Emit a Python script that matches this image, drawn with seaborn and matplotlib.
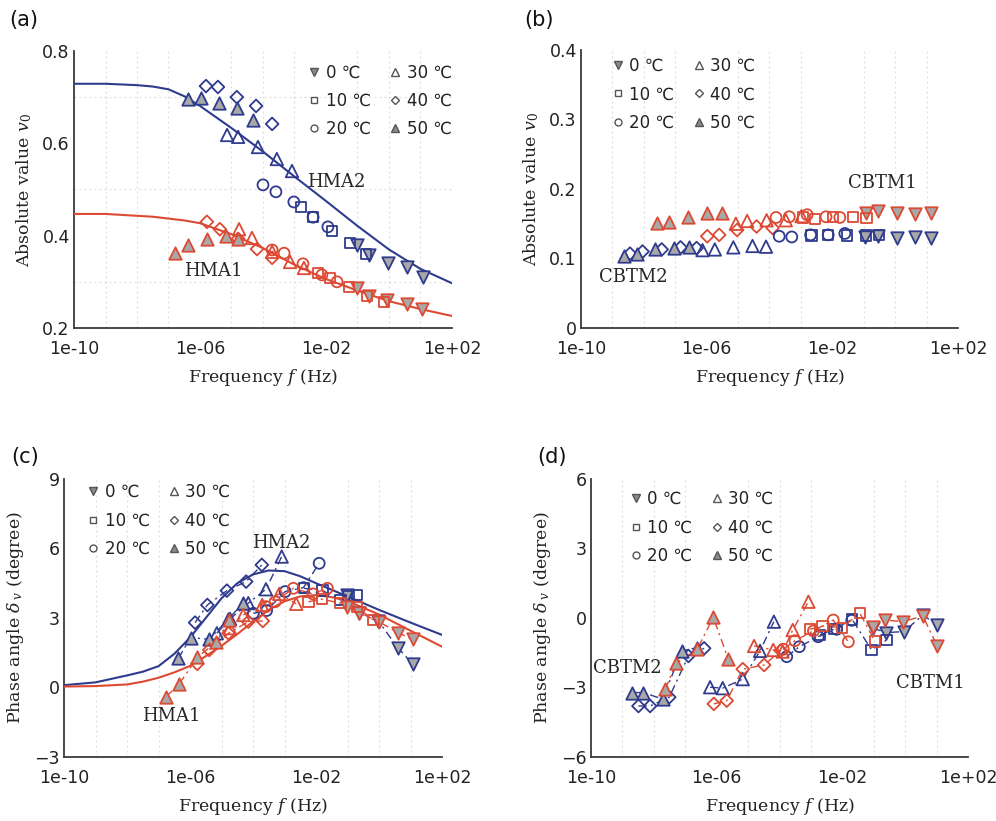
import numpy as np
import pandas as pd
import matplotlib
matplotlib.use("Agg")
import matplotlib.pyplot as plt
import seaborn as sns
from matplotlib.lines import Line2D
from matplotlib.ticker import FixedLocator, FixedFormatter, NullFormatter

# ---------------- data (log10 of frequency, value) ----------------
TEMPS = [0, 10, 20, 30, 40, 50]

# (a) absolute value, HMA2 (blue) and HMA1 (red)
A_HMA2_LOGF = {0: [-1.02, -0.63, -0.03, 0.57, 1.08], 10: [-2.79, -2.41, -1.81, -1.24, -0.73],
               20: [-4.00, -3.59, -3.02, -2.41, -1.94], 30: [-5.14, -4.79, -4.16, -3.56, -3.08],
               40: [-5.81, -5.43, -4.83, -4.22, -3.71], 50: [-6.38, -5.97, -5.40, -4.83, -4.32]}
A_HMA2_V = {0: [0.380, 0.358, 0.341, 0.332, 0.310], 10: [0.462, 0.440, 0.410, 0.384, 0.360],
            20: [0.510, 0.495, 0.473, 0.440, 0.419], 30: [0.618, 0.614, 0.592, 0.566, 0.540],
            40: [0.724, 0.722, 0.700, 0.681, 0.642], 50: [0.696, 0.698, 0.687, 0.677, 0.651]}
A_HMA1_LOGF = {0: [-1.02, -0.63, -0.06, 0.57, 1.05], 10: [-2.25, -1.87, -1.27, -0.70, -0.16],
               20: [-3.71, -3.33, -2.73, -2.13, -1.65], 30: [-4.76, -4.35, -3.71, -3.14, -2.70],
               40: [-5.78, -5.37, -4.79, -4.19, -3.71], 50: [-6.79, -6.38, -5.78, -5.17, -4.79]}
A_HMA1_V = {0: [0.287, 0.269, 0.261, 0.252, 0.241], 10: [0.319, 0.308, 0.289, 0.269, 0.256],
            20: [0.369, 0.362, 0.339, 0.315, 0.300], 30: [0.414, 0.395, 0.365, 0.343, 0.330],
            40: [0.430, 0.414, 0.393, 0.371, 0.352], 50: [0.362, 0.380, 0.393, 0.399, 0.393]}
A_FIT_LOGF = [-10, -9, -8, -7.5, -7, -6.5, -6, -5, -4, -3, -2, -1, 0, 1, 2]
A_FIT_HMA2 = [0.729, 0.729, 0.726, 0.723, 0.717, 0.702, 0.681, 0.633, 0.582, 0.528, 0.475,
              0.421, 0.370, 0.328, 0.297]
A_FIT_HMA1 = [0.447, 0.447, 0.443, 0.441, 0.437, 0.433, 0.427, 0.403, 0.373, 0.337, 0.306,
              0.281, 0.258, 0.241, 0.226]

# (b) absolute value, CBTM1 (red) and CBTM2 (blue)
B_CBTM1_LOGF = {0: [-0.93, -0.56, 0.05, 0.63, 1.13], 10: [-2.94, -2.55, -1.97, -1.35, -0.91],
                20: [-3.79, -3.37, -2.80, -2.20, -1.76], 30: [-5.07, -4.71, -4.09, -3.48, -2.98],
                40: [-5.98, -5.60, -5.03, -4.41, -3.90], 50: [-7.59, -7.19, -6.59, -6.00, -5.52]}
B_CBTM1_V = {0: [0.165, 0.168, 0.166, 0.164, 0.166], 10: [0.159, 0.157, 0.160, 0.160, 0.158],
             20: [0.159, 0.160, 0.163, 0.160, 0.159], 30: [0.150, 0.154, 0.155, 0.155, 0.161],
             40: [0.132, 0.134, 0.141, 0.146, 0.144], 50: [0.151, 0.153, 0.159, 0.165, 0.166]}
B_CBTM2_LOGF = {0: [-0.96, -0.54, 0.05, 0.63, 1.13], 10: [-2.66, -2.13, -1.54, -0.93, -0.51],
                20: [-3.69, -3.29, -2.69, -2.13, -1.60], 30: [-6.13, -5.74, -5.15, -4.54, -4.11],
                40: [-8.44, -8.04, -7.43, -6.83, -6.32], 50: [-8.63, -8.23, -7.64, -7.04, -6.55]}
B_CBTM2_V = {0: [0.131, 0.133, 0.130, 0.131, 0.129], 10: [0.133, 0.134, 0.133, 0.133, 0.134],
             20: [0.132, 0.131, 0.134, 0.134, 0.136], 30: [0.112, 0.113, 0.116, 0.118, 0.117],
             40: [0.107, 0.110, 0.113, 0.116, 0.115], 50: [0.104, 0.107, 0.113, 0.115, 0.117]}

# (c) phase angle, HMA2 (blue) and HMA1 (red)
C_HMA2_LOGF = {0: [-1.03, -0.63, -0.02, 0.59, 1.07], 10: [-2.38, -1.79, -1.22, -0.97, -0.71],
               20: [-3.99, -3.57, -2.98, -2.40, -1.90], 30: [-5.15, -4.73, -4.15, -3.59, -3.09],
               40: [-5.84, -5.45, -4.83, -4.22, -3.72], 50: [-6.37, -5.98, -5.39, -4.78, -4.31]}
C_HMA2_V = {0: [3.99, 3.20, 2.87, 1.72, 1.02], 10: [4.28, 4.18, 3.78, 3.95, 3.99],
            20: [3.20, 3.32, 4.14, 4.31, 5.36], 30: [2.34, 2.96, 3.64, 4.24, 5.65],
            40: [2.80, 3.56, 4.18, 4.57, 5.29], 50: [1.26, 2.15, 2.08, 2.96, 3.64]}
C_HMA1_LOGF = {0: [-1.01, -0.63, 0.00, 0.59, 1.07], 10: [-2.24, -1.82, -1.22, -0.70, -0.18],
               20: [-3.59, -3.30, -2.72, -2.10, -1.64], 30: [-4.73, -4.31, -3.71, -3.17, -2.63],
               40: [-5.77, -5.39, -4.78, -4.15, -3.69], 50: [-6.76, -6.35, -5.77, -5.17, -4.75]}
C_HMA1_V = {0: [3.49, 3.23, 2.84, 2.37, 2.08], 10: [3.70, 3.81, 3.64, 3.48, 2.91],
            20: [3.49, 3.70, 4.28, 4.04, 4.28], 30: [2.56, 3.13, 3.56, 4.04, 3.61],
            40: [1.02, 1.62, 2.34, 2.84, 2.87], 50: [-0.40, 0.14, 1.30, 1.95, 2.91]}
C_FIT_HMA2_LOGF = [-10, -9, -8, -7.5, -7, -6.5, -6, -5.5, -5, -4.5, -4, -3.5, -3, -2.5, -2, -1, 0, 1, 2]
C_FIT_HMA2 = [0.10, 0.22, 0.52, 0.68, 0.92, 1.45, 2.15, 3.00, 3.85, 4.50, 4.88, 5.05, 5.02, 4.80,
              4.50, 3.93, 3.35, 2.80, 2.27]
C_FIT_HMA1_LOGF = [-10, -9, -8, -7.5, -7, -6.5, -6, -5.5, -5, -4.5, -4, -3.5, -3, -2.5, -2, -1.5, -1,
                   0, 1, 2]
C_FIT_HMA1 = [0.04, 0.06, 0.13, 0.25, 0.42, 0.65, 0.93, 1.35, 1.80, 2.30, 2.85, 3.35, 3.72, 3.93,
              3.99, 3.90, 3.73, 3.15, 2.45, 1.76]

# (d) phase angle, CBTM1 (red) and CBTM2 (blue)
D_CBTM2_LOGF = {0: [-1.03, -0.61, -0.04, 0.56, 1.02], 10: [-2.71, -2.27, -1.69, -1.07, -0.59],
                20: [-3.77, -3.37, -2.77, -2.18, -1.70], 30: [-6.21, -5.81, -5.17, -4.62, -4.18],
                40: [-8.49, -8.12, -7.51, -6.90, -6.40], 50: [-8.70, -8.34, -7.72, -7.11, -6.62]}
D_CBTM2_V = {0: [-0.44, -0.63, -0.59, 0.13, -0.30], 10: [-0.73, -0.49, -0.06, -1.38, -0.95],
             20: [-1.67, -1.24, -0.81, -0.49, -0.10], 30: [-2.99, -3.03, -2.64, -1.42, -0.16],
             40: [-3.80, -3.80, -3.42, -1.64, -1.31], 50: [-3.22, -3.22, -3.50, -1.42, -1.28]}
D_CBTM1_LOGF = {0: [-1.03, -0.64, -0.06, 0.56, 1.02], 10: [-3.03, -2.63, -2.02, -1.44, -0.96],
                20: [-3.88, -3.51, -2.92, -2.29, -1.81], 30: [-4.81, -4.20, -3.90, -3.58, -3.08],
                40: [-6.09, -5.68, -5.17, -4.49, -3.96], 50: [-7.64, -7.29, -6.62, -6.11, -5.63]}
D_CBTM1_V = {0: [-0.37, -0.09, -0.16, 0.09, -1.21], 10: [-0.49, -0.34, -0.42, 0.20, -1.02],
             20: [-1.35, -0.98, -0.56, -0.09, -1.03], 30: [-1.21, -1.38, -1.45, -0.52, 0.70],
             40: [-3.71, -3.57, -2.21, -2.03, -1.41], 50: [-3.08, -1.95, -1.35, 0.03, -1.78]}

X_TICKS = [1e-10, 1e-6, 1e-2, 1e2]
X_TICK_LABELS = ["1e-10", "1e-06", "1e-02", "1e+02"]

# ---------------- style ----------------
sns.set_theme(style="white")
plt.rcParams['font.family'] = ['DejaVu Sans']
plt.rcParams['mathtext.fontset'] = 'dejavuserif'

BLUE = '#2f3b8d'
RED = '#dc4a34'
GRAY = '#a8a8a8'
SPINE = '#3a3a3a'
SERIF = ['DejaVu Serif']

MARKERS = {0: 'v', 10: 's', 20: 'o', 30: '^', 40: 'D', 50: '^'}
SIZES = {0: 80, 10: 55, 20: 62, 30: 80, 40: 42, 50: 80}
FILLED = {0: True, 10: False, 20: False, 30: False, 40: False, 50: True}
LEG_MS = {0: 6, 10: 5, 20: 5, 30: 6, 40: 4.5, 50: 6}


def to_frame(logf, vals):
    rows = []
    for t in TEMPS:
        for lf, v in zip(logf[t], vals[t]):
            rows.append({"temp": t, "freq": 10.0 ** lf, "value": v})
    return pd.DataFrame(rows)


def draw_points(ax, logf, vals, color, connect=False):
    df = to_frame(logf, vals)
    for t in TEMPS:
        sub = df[df.temp == t]
        if connect:
            sns.lineplot(data=sub, x="freq", y="value", color=color, linewidth=1.0,
                         linestyle=(0, (6, 3, 1.5, 3)), estimator=None, sort=False, ax=ax,
                         legend=False, zorder=2)
        sns.scatterplot(data=sub, x="freq", y="value", marker=MARKERS[t], s=SIZES[t],
                        color=GRAY if FILLED[t] else 'none', edgecolor=color,
                        linewidth=1.3, ax=ax, legend=False, zorder=4)


def draw_fit(ax, logf, vals, color):
    sns.lineplot(x=10.0 ** np.asarray(logf), y=vals, color=color, linewidth=1.5,
                 estimator=None, sort=False, ax=ax, legend=False, zorder=3)


def style_axes(ax, ylim, yticks, ylabels, ygrid, ylabel):
    ax.set_xscale('log')
    ax.set_xlim(1e-10, 1e2)
    ax.set_ylim(*ylim)
    ax.xaxis.set_major_locator(FixedLocator(X_TICKS))
    ax.xaxis.set_major_formatter(FixedFormatter(X_TICK_LABELS))
    ax.xaxis.set_minor_locator(FixedLocator([10.0 ** k for k in range(-10, 3)]))
    ax.xaxis.set_minor_formatter(NullFormatter())
    ax.yaxis.set_major_locator(FixedLocator(yticks))
    ax.yaxis.set_major_formatter(FixedFormatter(ylabels))
    ax.yaxis.set_minor_locator(FixedLocator(ygrid))
    ax.yaxis.set_minor_formatter(NullFormatter())
    ax.tick_params(axis='both', which='major', direction='in', length=5, width=1.2,
                   color=SPINE, labelsize=12.5, labelcolor='#222222')
    ax.tick_params(axis='x', which='major', pad=9)
    ax.tick_params(axis='y', which='major', pad=3)
    ax.tick_params(which='minor', length=0)
    ax.grid(True, which='minor', color='#dedede', linestyle=(0, (1.5, 2.5)), linewidth=0.9)
    ax.grid(False, which='major')
    for s in ['top', 'right']:
        ax.spines[s].set_visible(False)
    for s in ['left', 'bottom']:
        ax.spines[s].set_color(SPINE)
        ax.spines[s].set_linewidth(1.3)
    ax.set_facecolor('white')
    ax.set_xlabel(r"Frequency $f$ (Hz)", fontsize=12.5, family=SERIF, labelpad=6, color='#222222')
    ax.set_ylabel(ylabel, fontsize=12.5, family=SERIF, labelpad=6, color='#222222')


def add_legend(ax, anchor, loc):
    handles = []
    for t in TEMPS:
        handles.append(Line2D([], [], linestyle='none', marker=MARKERS[t], markersize=LEG_MS[t],
                              markerfacecolor='#8a8a8a' if FILLED[t] else 'none',
                              markeredgecolor='#555555', markeredgewidth=1.0,
                              label=f"{t} \u2103"))
    ax.legend(handles=handles, ncol=2, frameon=False, fontsize=12, loc=loc,
              bbox_to_anchor=anchor, handlelength=0.7, handletextpad=0.35,
              columnspacing=1.1, labelspacing=0.62, borderpad=0, borderaxespad=0,
              labelcolor='#222222')


fig = plt.figure(figsize=(9.96, 8.21), dpi=100)
ax_a = fig.add_axes([0.0743, 0.6005, 0.3795, 0.3374])
ax_b = fig.add_axes([0.5833, 0.6005, 0.3785, 0.3386])
ax_c = fig.add_axes([0.0643, 0.0780, 0.3795, 0.3386])
ax_d = fig.add_axes([0.5934, 0.0780, 0.3785, 0.3386])

ABS_LABEL = r"Absolute value $v_0$"
PHASE_LABEL = r"Phase angle $\delta_{\,v}$ (degree)"

# (a)
draw_fit(ax_a, A_FIT_LOGF, A_FIT_HMA2, BLUE)
draw_fit(ax_a, A_FIT_LOGF, A_FIT_HMA1, RED)
draw_points(ax_a, A_HMA2_LOGF, A_HMA2_V, BLUE)
draw_points(ax_a, A_HMA1_LOGF, A_HMA1_V, RED)
style_axes(ax_a, (0.2, 0.8), [0.2, 0.4, 0.6, 0.8], ["0.2", "0.4", "0.6", "0.8"],
           [0.3, 0.4, 0.5, 0.6, 0.7], ABS_LABEL)
ax_a.text(10 ** -1.66, 0.517, "HMA2", family=SERIF, fontsize=13, ha='center', va='center')
ax_a.text(10 ** -5.58, 0.324, "HMA1", family=SERIF, fontsize=13, ha='center', va='center')
add_legend(ax_a, (1.0, 0.955), 'upper right')

# (b)
draw_points(ax_b, B_CBTM1_LOGF, B_CBTM1_V, RED)
draw_points(ax_b, B_CBTM2_LOGF, B_CBTM2_V, BLUE)
style_axes(ax_b, (0.0, 0.4), [0.0, 0.1, 0.2, 0.3, 0.4], ["0", "0.1", "0.2", "0.3", "0.4"],
           [0.1, 0.2], ABS_LABEL)
ax_b.text(10 ** -0.40, 0.208, "CBTM1", family=SERIF, fontsize=13, ha='center', va='center')
ax_b.text(10 ** -8.34, 0.074, "CBTM2", family=SERIF, fontsize=13, ha='center', va='center')
add_legend(ax_b, (0.082, 0.975), 'upper left')

# (c)
draw_fit(ax_c, C_FIT_HMA2_LOGF, C_FIT_HMA2, BLUE)
draw_fit(ax_c, C_FIT_HMA1_LOGF, C_FIT_HMA1, RED)
draw_points(ax_c, C_HMA2_LOGF, C_HMA2_V, BLUE, connect=True)
draw_points(ax_c, C_HMA1_LOGF, C_HMA1_V, RED, connect=True)
style_axes(ax_c, (-3, 9), [-3, 0, 3, 6, 9], ["\u22123", "0", "3", "6", "9"],
           [0, 3, 6], PHASE_LABEL)
ax_c.text(10 ** -3.09, 6.25, "HMA2", family=SERIF, fontsize=13, ha='center', va='center')
ax_c.text(10 ** -6.58, -1.23, "HMA1", family=SERIF, fontsize=13, ha='center', va='center')
add_legend(ax_c, (0.061, 0.985), 'upper left')

# (d)
draw_points(ax_d, D_CBTM2_LOGF, D_CBTM2_V, BLUE, connect=True)
draw_points(ax_d, D_CBTM1_LOGF, D_CBTM1_V, RED, connect=True)
style_axes(ax_d, (-6, 6), [-6, -3, 0, 3, 6], ["\u22126", "\u22123", "0", "3", "6"],
           [-3, 0], PHASE_LABEL)
ax_d.text(10 ** -8.86, -2.17, "CBTM2", family=SERIF, fontsize=13, ha='center', va='center')
ax_d.text(10 ** 0.81, -2.79, "CBTM1", family=SERIF, fontsize=13, ha='center', va='center')
add_legend(ax_d, (0.103, 0.96), 'upper left')

for txt, x, y in [("(a)", 0.024, 0.9756), ("(b)", 0.541, 0.9756),
                  ("(c)", 0.025, 0.443), ("(d)", 0.554, 0.443)]:
    fig.text(x, y, txt, fontsize=15, ha='center', va='center', color='#111111')

fig.savefig("out.png", dpi=100)
